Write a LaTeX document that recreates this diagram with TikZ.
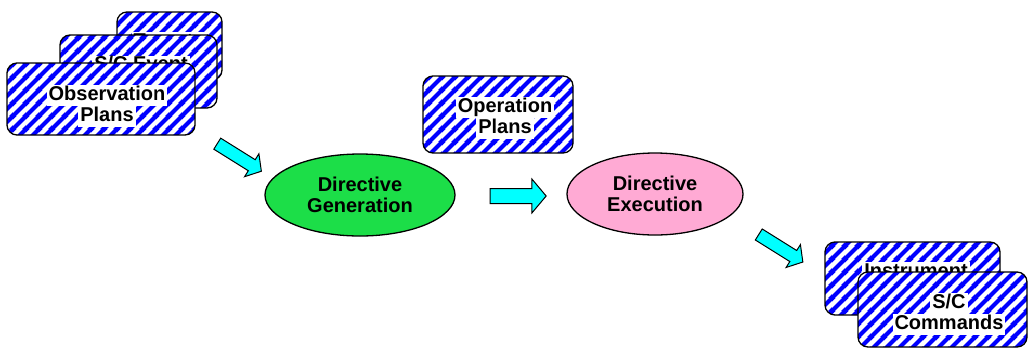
\documentclass[tikz,border=0pt]{standalone}
\usepackage{fontspec}
\setmainfont{Liberation Sans}
\usetikzlibrary{shapes.geometric,shapes.arrows,patterns}
\definecolor{stripeblue}{RGB}{0,0,255}
\definecolor{arrowcyan}{RGB}{0,255,255}
\definecolor{gengreen}{RGB}{28,222,72}
\definecolor{execpink}{RGB}{255,170,212}
\newcommand{\wbox}[1]{{\fboxsep=0pt\colorbox{white}{\strut\kern2pt #1\kern2pt}}}
\pgfdeclarepatternformonly{bluestripes}{\pgfpointorigin}{\pgfpoint{13pt}{13pt}}{\pgfpoint{13pt}{13pt}}{
  \pgfsetlinewidth{4.4pt}
  \pgfpathmoveto{\pgfpoint{-7pt}{-7pt}}\pgfpathlineto{\pgfpoint{20pt}{20pt}}
  \pgfpathmoveto{\pgfpoint{-7pt}{6pt}}\pgfpathlineto{\pgfpoint{7pt}{20pt}}
  \pgfpathmoveto{\pgfpoint{6pt}{-7pt}}\pgfpathlineto{\pgfpoint{20pt}{7pt}}
  \pgfusepath{stroke}}
\begin{document}
\begin{tikzpicture}[x=1pt,y=-1pt,
  font=\fontsize{20}{21}\selectfont\bfseries,
  card/.style={draw,line width=1.3pt,rounded corners=10pt,preaction={fill=white},
    pattern=bluestripes,pattern color=stripeblue},
  lbl/.style={align=center,inner sep=0pt},
  oval/.style={ellipse,draw,line width=1.3pt,inner sep=0pt,align=center,
    minimum height=82pt},
  bigarrow/.style={single arrow,draw,line width=1pt,fill=arrowcyan,
    single arrow tip angle=100}]
\useasboundingbox (0,0) rectangle (1028,349);
% input stack
\node[card,minimum width=105pt,minimum height=68pt] (tgt) at (169.5,46) {};
\node[lbl] (tgtlbl) at (169,42.8) {\wbox{Targets}};
\node[card,minimum width=157pt,minimum height=73pt] (evt) at (138.5,71.5) {};
\node[lbl] (evtlbl) at (141,66.4) {\wbox{S/C Event}};
\node[card,minimum width=188pt,minimum height=72pt] (obs) at (101,99) {};
\node[lbl] (obslbl) at (107,106.3) {\wbox{Observation}\\\wbox{Plans}};
\node[card,minimum width=150pt,minimum height=77pt] (ops) at (498,114.5) {};
\node[lbl] (opslbl) at (505,118.3) {\wbox{Operation}\\\wbox{Plans}};
% processes
\node[oval,fill=gengreen,minimum width=190pt] (gen) at (360,195) {Directive\\Generation};
\node[oval,fill=execpink,minimum width=176pt] (exe) at (655,194) {Directive\\Execution};
% output stack
\node[card,minimum width=175pt,minimum height=73pt] (ins) at (912.5,278.5) {};
\node[lbl] (inslbl) at (916,272.8) {\wbox{Instrument}};
\node[card,minimum width=169pt,minimum height=75pt] (cmd) at (942.5,309.5) {};
\node[lbl] (cmdlbl) at (949,314.3) {\wbox{S/C}\\\wbox{Commands}};
% flow arrows
\node[bigarrow,inner sep=6pt,minimum height=52pt,single arrow head extend=7pt,
  rotate=-32] (a1) at (237,156) {};
\node[bigarrow,inner sep=7pt,minimum height=56pt,single arrow head extend=9.5pt]
  (a2) at (515,196) {};
\node[bigarrow,inner sep=6pt,minimum height=52pt,single arrow head extend=7pt,
  rotate=-32] (a3) at (778.5,246.8) {};
\end{tikzpicture}
\end{document}
